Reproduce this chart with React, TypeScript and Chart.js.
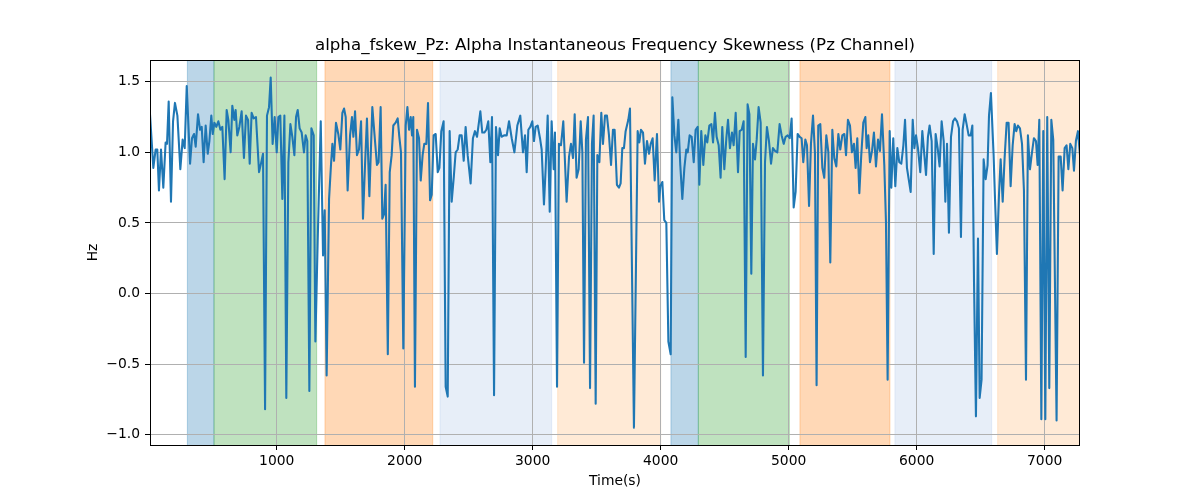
import React, { useEffect, useRef } from 'react';
import { Chart, registerables } from 'chart.js';

Chart.register(...registerables);

const TITLE = 'alpha_fskew_Pz: Alpha Instantaneous Frequency Skewness (Pz Channel)';
const X_LABEL = 'Time(s)';
const Y_LABEL = 'Hz';

const TIMES = [
  10, 36, 54, 67, 80, 96, 114, 132, 143, 156, 174, 190, 205, 224, 247, 265, 281, 297, 323, 338,
  354, 367, 385, 401, 414, 429, 445, 461, 474, 489, 500, 513, 528, 544, 560, 575, 593, 609, 622, 640,
  653, 669, 679, 692, 708, 726, 744, 760, 776, 789, 804, 820, 838, 862, 877, 893, 909, 924,
  940, 953, 968, 984, 1000, 1013, 1028, 1044, 1060, 1075, 1091, 1107, 1122, 1138, 1151, 1164, 1179, 1195,
  1213, 1226, 1239, 1255, 1271, 1289, 1302, 1320, 1344, 1362, 1375, 1390, 1409, 1424, 1435, 1448, 1463,
  1481, 1497, 1513, 1526, 1539, 1554, 1573, 1588, 1599, 1612, 1627, 1643, 1659, 1674, 1690, 1705, 1724,
  1747, 1768, 1783, 1796, 1812, 1825, 1838, 1851, 1868, 1883,
  1898, 1911, 1929, 1945, 1958, 1971, 1989, 2008, 2021, 2034, 2047, 2057, 2067, 2080, 2096, 2112, 2125,
  2140, 2153, 2169, 2182, 2198, 2211, 2226, 2242, 2258, 2271, 2286, 2304, 2320, 2336, 2351, 2367, 2383,
  2398, 2414, 2429, 2445, 2461, 2476, 2492, 2515, 2533, 2549, 2565, 2591, 2606, 2622, 2638, 2653, 2669,
  2682, 2698, 2713, 2729, 2742, 2757, 2776, 2797, 2815,
  2836, 2857, 2880, 2903, 2924, 2940, 2953, 2966, 2981, 2997, 3010, 3023, 3039, 3057, 3070, 3088, 3101,
  3117, 3133, 3148, 3164, 3174, 3190, 3205, 3221, 3239, 3265, 3284, 3299, 3315, 3328, 3343, 3359, 3375,
  3388, 3401, 3416, 3432, 3448, 3463, 3476, 3492, 3505, 3521, 3536, 3549, 3565, 3580, 3596, 3612, 3627,
  3640, 3658, 3674, 3687, 3700, 3713, 3726, 3747, 3760,
  3791, 3820, 3833, 3846, 3862, 3877, 3893, 3909, 3922, 3937, 3953, 3971, 3987, 3997, 4013, 4028, 4044,
  4060, 4078, 4091, 4107, 4122, 4138, 4153, 4169, 4185, 4200, 4211, 4226, 4242, 4258, 4273, 4289, 4302,
  4317, 4333, 4349, 4364, 4380, 4396, 4409, 4424, 4437, 4453, 4468, 4481, 4497, 4513, 4526, 4541, 4557,
  4570, 4586, 4604, 4617, 4633, 4648, 4664, 4679, 4693,
  4708, 4721, 4737, 4750, 4765, 4781, 4799, 4815, 4830, 4846, 4862, 4877, 4893, 4911, 4929, 4945, 4961,
  4976, 4992, 5008, 5023, 5039, 5054, 5070, 5086, 5101, 5114, 5130, 5143, 5159, 5174, 5190, 5205, 5218,
  5231, 5247, 5263, 5278, 5294, 5310, 5325, 5341, 5356, 5372, 5388, 5403, 5419, 5435, 5448, 5463, 5479,
  5494, 5510, 5523, 5536, 5552, 5567, 5583, 5599,
  5609, 5622, 5635, 5651, 5666, 5682, 5698, 5713, 5729, 5747, 5760, 5773, 5789, 5802, 5817, 5833, 5849,
  5864, 5880, 5896, 5909, 5924, 5953, 5969, 5982, 5995, 6010, 6028, 6044, 6060, 6073, 6088, 6101, 6117,
  6133, 6148, 6164, 6179, 6195, 6211, 6224, 6237, 6252, 6268, 6284, 6299, 6315, 6330, 6346, 6359, 6375,
  6390, 6406, 6422, 6435, 6448, 6463, 6479, 6492, 6507, 6523, 6539, 6554,
  6565, 6580, 6601, 6612, 6627, 6643, 6656, 6672, 6687, 6703, 6718, 6734, 6750, 6765, 6778, 6791, 6807,
  6823, 6838, 6854, 6869, 6885, 6901, 6916, 6932, 6945, 6958, 6974, 6989, 7005, 7020, 7036, 7052, 7067,
  7093, 7109, 7125, 7140, 7156, 7171, 7185, 7200, 7216, 7229, 7244, 7260, 7276,
];

const VALUES = [
  1.27, 0.89, 1.02, 1.02, 0.73, 1.02, 0.75, 1.07, 1.06, 1.36, 0.65, 1.22, 1.35, 1.26, 0.88, 1.09, 1.03, 1.47, 0.92, 1.10,
  1.13, 1.04, 1.27, 1.16, 1.18, 0.93, 1.19, 0.99, 1.08, 1.26, 1.13, 1.21, 1.18, 1.22, 1.16, 1.18, 0.81, 1.30, 1.23, 1.00,
  1.33, 1.23, 1.30, 1.12, 1.18, 1.29, 0.96, 1.26, 1.23, 0.92, 1.28, 1.24, 1.25, 0.86, 0.92, 0.99, -0.82, 1.26,
  1.32, 1.53, 1.06, 1.25, 1.00, 1.25, 1.26, 0.67, 1.26, -0.74, 0.93, 1.20, 1.11, 0.98, 1.25, 1.30, 1.17, 1.14,
  1.00, 1.12, 1.08, -0.69, 1.17, 1.12, -0.34, 0.37, 1.22, 0.27, 0.59, -0.58, 0.67, 0.91, 1.06, 0.94, 1.21,
  1.13, 1.02, 1.28, 1.31, 1.25, 0.73, 1.12, 1.25, 1.11, 1.29, 0.98, 1.02, 1.22, 0.53, 0.91, 1.24, 0.69,
  1.32, 1.08, 0.91, 0.93, 1.32, 0.53, 0.56, 0.77, -0.43, 0.86,
  0.98, 1.19, 1.21, 1.24, 1.11, 1.00, -0.39, 1.19, 1.32, 1.16, 1.25, 1.12, 1.25, -0.66, 1.16, 1.10, 0.80,
  0.98, 1.06, 1.06, 1.35, 0.66, 0.70, 1.12, 1.13, 0.86, 0.89, 1.15, 1.22, -0.66, -0.73, 1.15, 0.65, 0.82,
  1.00, 1.02, 1.12, 1.12, 0.94, 1.18, 0.98, 0.78, 1.10, 1.15, 1.11, 1.29, 1.14, 1.14, 1.16, 1.22, 0.93,
  1.25, -0.72, 1.18, 0.98, 1.17, 1.11, 1.12, 1.12, 1.22,
  1.10, 1.00, 1.19, 1.26, 1.00, 1.12, 0.86, 1.16, 1.18, 1.22, 1.08, 1.18, 1.19, 1.10, 1.02, 0.63, 0.88,
  1.26, 0.58, 1.22, 0.88, 1.14, -0.66, 1.06, 1.05, 1.22, 0.65, 0.97, 1.06, 0.96, 1.27, 0.82, 0.88, 1.22,
  1.00, -0.49, 1.09, 1.25, -0.67, 1.06, 1.26, -0.78, 0.98, 0.93, 1.28, 1.06, 1.26, 1.26, 1.12, 0.91, 1.16,
  1.16, 0.77, 0.75, 0.78, 1.03, 1.03, 1.15, 1.23, 1.31,
  -0.95, 1.15, 1.07, 1.16, 1.14, 0.92, 1.08, 0.99, 1.06, 1.10, 0.80, 1.13, 0.65, 0.76, 0.79, 0.52, 0.50,
  -0.34, -0.43, 1.39, 1.12, 1.00, 1.23, 0.91, 0.67, 0.89, 1.02, 1.00, 1.12, 1.11, 0.93, 1.16, 1.18, 0.77,
  1.15, 0.91, 1.12, 1.07, 1.19, 1.20, 1.07, 1.28, 1.11, 1.05, 0.82, 1.18, 0.88, 1.10, 1.23, 1.03, 1.14,
  1.05, 1.28, 0.86, 1.15, 1.16, 1.22, -0.45, 1.34, 1.27,
  0.14, 1.06, 0.95, 1.09, 1.32, 1.21, -0.58, 0.93, 1.18, 1.08, 0.92, 1.03, 1.01, 1.00, 1.20, 1.12, 1.06,
  1.11, 1.12, 1.10, 1.24, 0.61, 0.72, 1.13, 1.11, 1.10, 0.93, 1.09, 1.05, 0.62, 1.06, 1.26, 1.00, -0.65,
  1.19, 1.20, 0.89, 0.82, 1.12, 1.00, 0.22, 1.16, 0.96, 0.90, 1.13, 1.02, 1.12, 1.13, 0.98, 1.23, 1.19,
  1.00, 1.06, 0.89, 1.10, 0.71, 0.98, 1.21, 1.25,
  1.03, 1.12, 0.93, 1.01, 1.14, 0.90, 1.09, 1.01, 1.27, 0.91, 0.51, -0.61, 1.15, 0.75, 1.10, 0.76, 1.03,
  0.93, 0.92, 1.05, 1.23, 0.89, 0.72, 1.23, 1.03, 1.12, 1.03, 0.86, 1.15, 0.98, 0.84, 1.11, 1.19, 1.08,
  0.28, 1.13, 1.03, 0.90, 1.22, 1.08, 0.65, 1.06, 0.43, 1.11, 1.22, 1.24, 1.22, 1.17, 0.40, 1.16, 1.27,
  1.20, 1.12, 1.12, 1.19, 0.08, -0.87, 0.39, -0.74, -0.61, 0.95, 0.81, 0.91,
  1.26, 1.42, 0.98, 0.67, 0.28, 0.70, 0.95, 0.65, 0.96, 1.21, 1.21, 0.76, 1.05, 1.20, 1.15, 1.19, 1.17,
  1.06, 0.73, -0.61, 1.12, 0.88, 1.00, 1.10, 1.08, 0.91, 1.23, -0.89, 1.15, -0.89, 1.25, -0.67, 1.23, 1.09,
  -0.90, 0.97, 0.97, 0.73, 1.03, 1.05, 0.88, 1.06, 1.03, 0.87, 1.08, 1.15, 0.98,
];

const X_TICKS = [1000, 2000, 3000, 4000, 5000, 6000, 7000];
const Y_TICKS = [-1.0, -0.5, 0.0, 0.5, 1.0, 1.5];
const Y_MIN = -1.073;
const Y_MAX = 1.654;

const REGION_STARTS = [302, 510, 1377, 2276, 3195, 4080, 4294, 5088, 5830, 6633];
const REGION_ENDS = [510, 1312, 2219, 3148, 4000, 4294, 5005, 5791, 6586, 7276];
const REGION_KINDS = ['blue', 'green', 'orange', 'lightblue', 'lightorange', 'blue', 'green', 'orange', 'lightblue', 'lightorange'];

const REGION_COLORS: Record<string, string> = {
  blue: 'rgba(31,119,180,0.3)',
  green: 'rgba(44,160,44,0.3)',
  orange: 'rgba(255,127,14,0.3)',
  lightblue: 'rgba(174,199,232,0.3)',
  lightorange: 'rgba(255,187,120,0.3)',
};

const FONT_FAMILY = "'DejaVu Sans', sans-serif";

const fmtY = (v: number) => (v < 0 ? '\u2212' + Math.abs(v).toFixed(1) : v.toFixed(1));

const regionsPlugin = {
  id: 'regionsPlugin',
  beforeDraw(chart: any) {
    const { ctx, chartArea, scales } = chart;
    const xs = scales.x;
    ctx.save();
    ctx.beginPath();
    ctx.rect(chartArea.left, chartArea.top, chartArea.right - chartArea.left, chartArea.bottom - chartArea.top);
    ctx.clip();
    REGION_STARTS.forEach((s, i) => {
      const x0 = xs.getPixelForValue(s);
      const x1 = xs.getPixelForValue(REGION_ENDS[i]);
      const col = REGION_COLORS[REGION_KINDS[i]];
      ctx.fillStyle = col;
      ctx.fillRect(x0, chartArea.top, x1 - x0, chartArea.bottom - chartArea.top);
      ctx.strokeStyle = col;
      ctx.lineWidth = 1;
      ctx.beginPath();
      ctx.moveTo(x0, chartArea.top);
      ctx.lineTo(x0, chartArea.bottom);
      ctx.moveTo(x1, chartArea.top);
      ctx.lineTo(x1, chartArea.bottom);
      ctx.stroke();
    });
    ctx.restore();
  },
  afterDraw(chart: any) {
    const { ctx, chartArea } = chart;
    ctx.save();
    ctx.strokeStyle = '#000';
    ctx.lineWidth = 1;
    ctx.strokeRect(
      Math.round(chartArea.left) + 0.5,
      Math.round(chartArea.top) + 0.5,
      Math.round(chartArea.right - chartArea.left) - 1,
      Math.round(chartArea.bottom - chartArea.top)
    );
    ctx.fillStyle = '#000';
    ctx.font = `16.67px ${FONT_FAMILY}`;
    ctx.textAlign = 'center';
    ctx.textBaseline = 'middle';
    ctx.fillText(TITLE, (chartArea.left + chartArea.right) / 2, 46);
    ctx.restore();
  },
};

export default function App() {
  const canvasRef = useRef<HTMLCanvasElement | null>(null);

  useEffect(() => {
    if (!canvasRef.current) return;
    Chart.defaults.font.family = FONT_FAMILY;
    Chart.defaults.color = '#000';
    const points = TIMES.map((t, i) => ({ x: t, y: VALUES[i] }));
    const chart = new Chart(canvasRef.current, {
      type: 'line',
      data: {
        datasets: [
          {
            data: points,
            borderColor: '#1f77b4',
            borderWidth: 2.08,
            pointRadius: 0,
            pointHoverRadius: 0,
            tension: 0,
            fill: false,
            borderJoinStyle: 'round',
            borderCapStyle: 'butt',
          },
        ],
      },
      options: {
        animation: false,
        responsive: false,
        devicePixelRatio: 1,
        events: [],
        layout: { padding: { left: 0, right: 120, top: 60, bottom: 0 } },
        plugins: {
          legend: { display: false },
          tooltip: { enabled: false },
          title: { display: false },
        },
        scales: {
          x: {
            type: 'linear',
            min: TIMES[0],
            max: TIMES[TIMES.length - 1],
            afterBuildTicks: (s: any) => {
              s.ticks = X_TICKS.map((v) => ({ value: v }));
            },
            afterFit: (s: any) => {
              s.height = 55;
            },
            border: { display: false },
            grid: {
              color: '#b0b0b0',
              lineWidth: 1,
              drawTicks: true,
              tickLength: 5,
              tickColor: '#000',
              tickWidth: 1,
            },
            ticks: {
              color: '#000',
              font: { size: 13.89, family: FONT_FAMILY },
              padding: 3,
              maxRotation: 0,
              autoSkip: false,
              callback: (v: any) => String(v),
            },
            title: {
              display: true,
              text: X_LABEL,
              color: '#000',
              font: { size: 13.89, family: FONT_FAMILY, lineHeight: 1.2 },
              padding: { top: 0, bottom: 10.67 },
            },
          },
          y: {
            type: 'linear',
            min: Y_MIN,
            max: Y_MAX,
            afterBuildTicks: (s: any) => {
              s.ticks = Y_TICKS.map((v) => ({ value: v }));
            },
            afterFit: (s: any) => {
              s.width = 150;
            },
            border: { display: false },
            grid: {
              color: '#b0b0b0',
              lineWidth: 1,
              drawTicks: true,
              tickLength: 5,
              tickColor: '#000',
              tickWidth: 1,
            },
            ticks: {
              color: '#000',
              font: { size: 13.89, family: FONT_FAMILY },
              padding: 5,
              autoSkip: false,
              callback: (v: any) => fmtY(Number(v)),
            },
            title: {
              display: true,
              text: Y_LABEL,
              color: '#000',
              font: { size: 13.89, family: FONT_FAMILY, lineHeight: 1.2 },
              padding: { top: 84.67, bottom: 0 },
            },
          },
        },
      },
      plugins: [regionsPlugin],
    } as any);
    return () => chart.destroy();
  }, []);

  return (
    <div style={{ position: 'absolute', left: 0, top: 0, width: 1200, height: 500, background: '#fff' }}>
      <canvas ref={canvasRef} width={1200} height={500} />
    </div>
  );
}
